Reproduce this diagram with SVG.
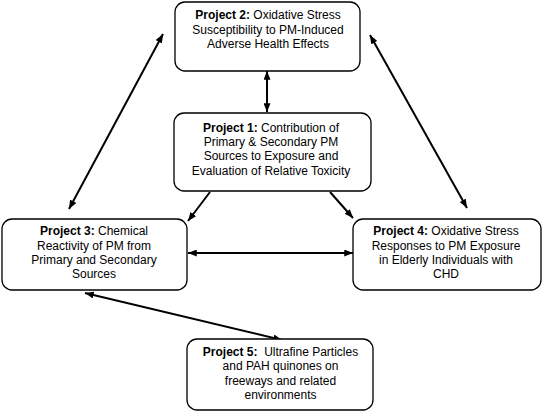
<svg xmlns="http://www.w3.org/2000/svg" width="550" height="416" viewBox="0 0 550 416">
<style>
.box{fill:#fff;stroke:#000;stroke-width:1.3}
.t{font-family:"Liberation Sans",Arial,sans-serif;font-size:12px;fill:#000;text-anchor:middle}
.b{font-weight:bold}
.c{stroke:#000;stroke-width:2;fill:none}
.both{marker-start:url(#ah);marker-end:url(#ah)}
.one{marker-end:url(#ah)}
</style>
<defs>
<marker id="ah" viewBox="0 0 10 8" refX="10" refY="4" markerWidth="9" markerHeight="7" markerUnits="userSpaceOnUse" orient="auto-start-reverse">
<path d="M0,0 L10,4 L0,8 z" fill="#000"/>
</marker>
</defs>
<rect width="550" height="416" fill="#fff"/>
<g id="connectors">
<line class="c both" x1="267" y1="71" x2="267" y2="112"/>
<line class="c both" x1="163" y1="34" x2="69" y2="209"/>
<line class="c both" x1="370" y1="35" x2="467" y2="208"/>
<line class="c one" x1="210" y1="192" x2="188" y2="221"/>
<line class="c one" x1="330" y1="192" x2="353" y2="218"/>
<line class="c both" x1="188" y1="253" x2="353" y2="253"/>
<line class="c both" x1="85" y1="293" x2="282" y2="340"/>
</g>
<g id="project2">
<rect class="box" x="175" y="2" width="185" height="69" rx="10"/>
<text class="t" x="268" y="19"><tspan class="b">Project 2:</tspan> Oxidative Stress</text>
<text class="t" x="268" y="33.5">Susceptibility to PM-Induced</text>
<text class="t" x="268" y="47.5">Adverse Health Effects</text>
</g>
<g id="project1">
<rect class="box" x="174" y="113" width="197" height="78" rx="10"/>
<text class="t" x="271" y="131.5"><tspan class="b">Project 1:</tspan> Contribution of</text>
<text class="t" x="271" y="145.8">Primary &amp; Secondary PM</text>
<text class="t" x="271" y="160.1">Sources to Exposure and</text>
<text class="t" x="271" y="174.5">Evaluation of Relative Toxicity</text>
</g>
<g id="project3">
<rect class="box" x="2" y="219" width="185" height="71" rx="10"/>
<text class="t" x="94" y="235"><tspan class="b">Project 3:</tspan> Chemical</text>
<text class="t" x="94" y="249.5">Reactivity of PM from</text>
<text class="t" x="94" y="264">Primary and Secondary</text>
<text class="t" x="94" y="278.3">Sources</text>
</g>
<g id="project4">
<rect class="box" x="353" y="219" width="188" height="71" rx="10"/>
<text class="t" x="446" y="235"><tspan class="b">Project 4:</tspan> Oxidative Stress</text>
<text class="t" x="446" y="249.5">Responses to PM Exposure</text>
<text class="t" x="446" y="264">in Elderly Individuals with</text>
<text class="t" x="446" y="278">CHD</text>
</g>
<g id="project5">
<rect class="box" x="187" y="339" width="186" height="71" rx="10"/>
<text class="t" x="280.5" y="356" xml:space="preserve"><tspan class="b">Project 5:</tspan>  Ultrafine Particles</text>
<text class="t" x="280.5" y="370.3">and PAH quinones on</text>
<text class="t" x="280.5" y="384.5">freeways and related</text>
<text class="t" x="280.5" y="398.7">environments</text>
</g>
</svg>
